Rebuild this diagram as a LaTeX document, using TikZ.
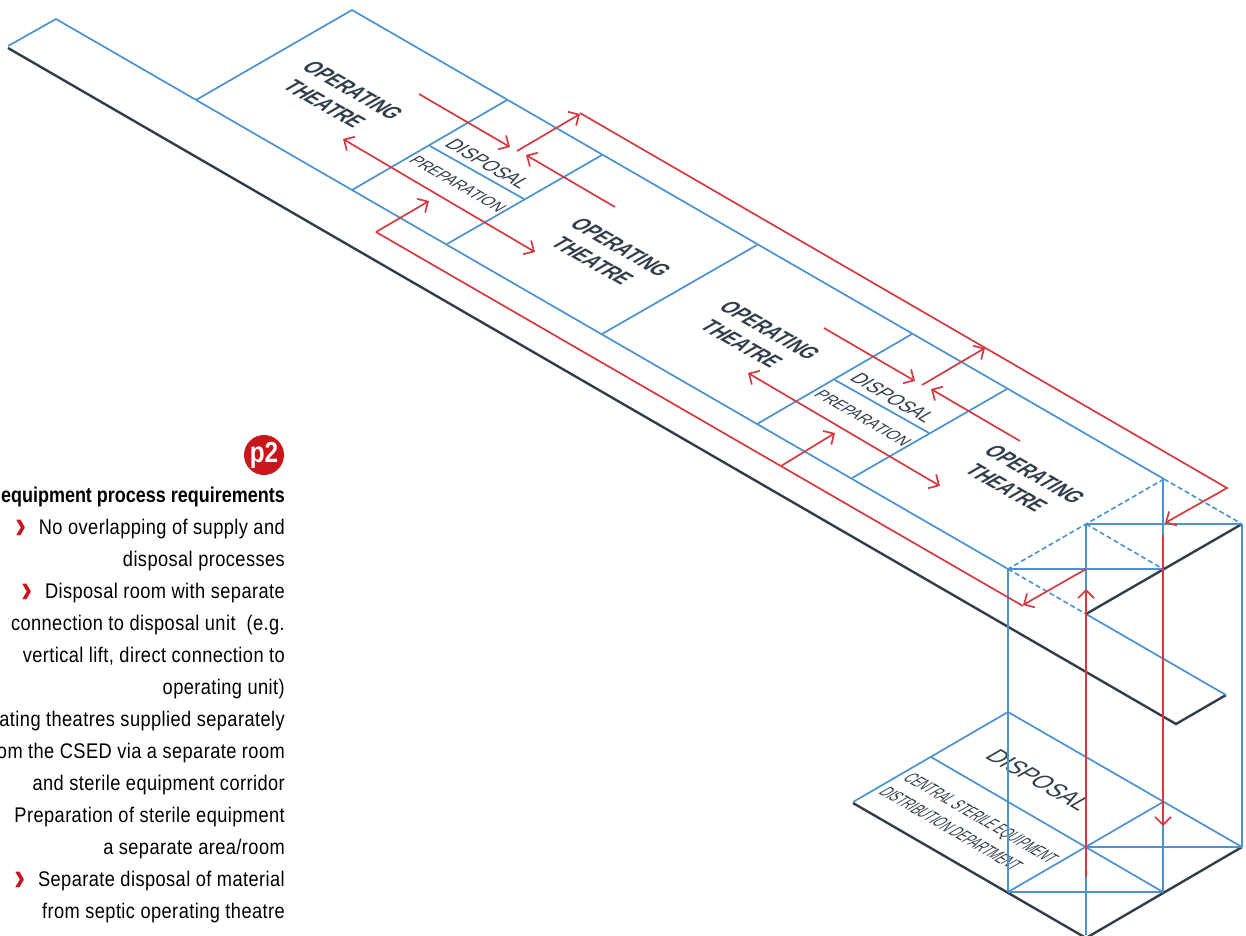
\documentclass[tikz,border=0pt]{standalone}
\usepackage{fontspec}
\usepackage{xcolor}
\usetikzlibrary{arrows.meta}
\setmainfont[FakeStretch=0.86,LetterSpace=2]{Liberation Sans}
\newfontfamily\labelfont[FakeStretch=0.84]{Liberation Sans}
\newfontfamily\theatrefont[FakeStretch=0.74]{Liberation Sans}
\newfontfamily\slimfont[FakeStretch=0.55]{Liberation Sans}
\definecolor{Ink}{HTML}{313D48}
\definecolor{Plan}{HTML}{4C92CE}
\definecolor{Flow}{HTML}{D33A3F}
\definecolor{Badge}{HTML}{C9161C}
\tikzset{
  roomline/.style={draw=Plan,line width=1.7pt},
  shaftline/.style={draw=Plan,line width=2.1pt},
  openline/.style={draw=Plan,line width=1.6pt,dash pattern=on 5pt off 3pt},
  edgeline/.style={draw=Ink,line width=2.4pt},
  flow/.style={draw=Flow,line width=1.7pt,-{Straight Barb[length=8pt,width=16pt,line width=1.7pt]}},
  flowboth/.style={flow,{Straight Barb[length=8pt,width=16pt,line width=1.7pt]}-{Straight Barb[length=8pt,width=16pt,line width=1.7pt]}},
  lift/.style={flow,line width=2.4pt},
  iso/.style={rotate=-30,xslant=0.577,yscale=0.866,text=Ink,inner sep=0pt,align=left},
  theatre/.style={iso,font=\theatrefont\bfseries\fontsize{24}{30}\selectfont},
  room/.style={iso,font=\labelfont\fontsize{21}{21}\selectfont},
  prep/.style={iso,font=\labelfont\fontsize{17.5}{18}\selectfont},
  note/.style={inner sep=0pt,align=right,text=black,font=\fontsize{21.2}{32}\selectfont}
}
\newcommand{\chevron}[1]{\raisebox{-4pt}[0pt][0pt]{\color{Badge}\labelfont\bfseries\fontsize{40}{32}\selectfont ›}\hspace{#1}}

\begin{document}
\begin{tikzpicture}[x=1pt,y=-1pt]
  \useasboundingbox (0,0) rectangle (1246,935);
  % labels below the lines
  \node[theatre] (theatreA) at (340,98) {OPERATING\\\hspace*{8pt}THEATRE};
  \node[theatre] (theatreB) at (608,255) {OPERATING\\\hspace*{8pt}THEATRE};
  \node[theatre] (theatreC) at (757,338) {OPERATING\\\hspace*{8pt}THEATRE};
  \node[theatre] (theatreD) at (1022,482) {OPERATING\\\hspace*{8pt}THEATRE};
  \node[iso,font=\labelfont\fontsize{26}{26}\selectfont] (disposalunit) at (1039,780) {DISPOSAL};
  \node[iso,font=\slimfont\fontsize{20}{28}\selectfont] (csed) at (969,825) {CENTRAL STERILE EQUIPMENT\\DISTRIBUTION DEPARTMENT};
  % floor of the upper level
  \draw[edgeline] (8,48)--(1176,724)--(1226,695);
  \draw[roomline] (8,46)--(56,19)--(1008,569);
  \draw[roomline] (196,100)--(352,10)--(1164,479);
  \draw[roomline] (602,334)--(757,245);
  \draw[roomline] (1086,614)--(1226,695);
  \foreach \dx/\dy/\m in {0/0/a,405/234/b}{
    \begin{scope}[shift={(\dx,\dy)}]
      \draw[roomline] (352,190)--(507,100);
      \draw[roomline] (430,146)--(524,199);
      \draw[roomline] (447,244)--(602,155);
      \node[room] (disposal\m) at (488,164) {DISPOSAL};
      \node[prep] (preparation\m) at (458,184) {PREPARATION};
      \draw[flow] (419,94)--(510,147);
      \draw[flow] (517,151)--(580,114);
      \draw[flow] (615,207)--(526,155);
      \draw[flowboth] (343,139)--(535,252);
    \end{scope}
  }
  % lift shaft
  \draw[openline] (1164,479)--(1008,569);
  \draw[openline] (1164,479)--(1242,524);
  \draw[openline] (1086,524)--(1163,569);
  \draw[openline] (1008,569)--(1086,614);
  \draw[edgeline] (1242,524)--(1086,614);
  % lower level
  \draw[edgeline] (853,803)--(1086,938)--(1242,847);
  \draw[roomline] (853,802)--(1008,712)--(1242,847);
  \draw[roomline] (931,757)--(1163,892);
  \draw[roomline] (1008,892)--(1163,802);
  \draw[shaftline] (1008,569)--(1163,569);
  \draw[shaftline] (1086,524)--(1242,524);
  \draw[shaftline] (1008,892)--(1163,892);
  \draw[shaftline] (1086,847)--(1242,847);
  \draw[shaftline] (1008,569)--(1008,892);
  \draw[shaftline] (1086,524)--(1086,935);
  \draw[shaftline] (1163,479)--(1163,892);
  \draw[shaftline] (1242,524)--(1242,847);
  % supply and disposal routes
  \draw[flow] (580,113)--(1227,488)--(1165,523);
  \draw[flow] (376,232)--(429,201);
  \draw[flow] (781,466)--(835,433);
  \draw[draw=Flow,line width=1.7pt] (376,232)--(1023,606);
  \draw[flow] (1086,569)--(1023,605);
  \draw[lift] (1086,877)--(1086,589);
  \draw[lift] (1163,535)--(1163,826);
  % requirements
  \node[circle,fill=Badge,minimum size=40pt,inner sep=0pt,text=white,font=\labelfont\bfseries\fontsize{29}{29}\selectfont] (badge) at (264,455) {p2};
  \node[note,anchor=north east] (requirements) at (285,487) {{\labelfont\bfseries\fontsize{21.4}{32}\selectfont equipment process requirements}\\
    \chevron{12pt}No overlapping of supply and\\
    disposal processes\\
    \chevron{12pt}Disposal room with separate\\
    connection to disposal unit\ \ (e.g.\\
    vertical lift, direct connection to\\
    operating unit)\\
    ating theatres supplied separately\\
    om the CSED via a separate room\\
    and sterile equipment corridor\\
    Preparation of sterile equipment\\
    a separate area/room\\
    \chevron{12pt}Separate disposal of material\\
    from septic operating theatre};
\end{tikzpicture}
\end{document}
